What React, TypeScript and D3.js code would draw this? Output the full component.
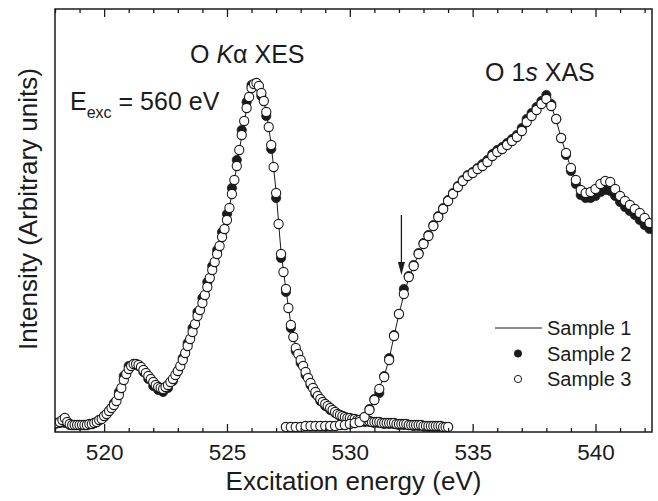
import React, { useRef, useEffect } from 'react';
import * as d3 from 'd3';

// energy grids (eV)
const xesStart1 = 518.0;
const xesStep1 = 0.2;
const xesStart2 = 518.0;
const xesStep2 = 0.2;
const xesStart3 = 518.0;
const xesStep3 = 0.1;
const xasStart = 527.4;
const xasStep = 0.2;

// O Ka XES, intensity in arbitrary units
const sample1Xes = [
  9, 10, 12, 9, 8, 7, 7, 7, 8, 11,
  15, 21, 28, 38, 52, 62, 68, 67, 62, 56,
  50, 45, 44, 47, 53, 61, 72, 86, 100, 115,
  129, 145, 161, 177, 195, 212, 238, 266, 296, 323,
  343, 349, 340, 320, 288, 240, 180, 142, 108, 85,
  72, 60, 49, 40, 33, 28, 24, 20, 17, 15,
  14, 13, 12, 11, 11, 10, 10, 9, 9, 9,
  8, 8, 7, 7, 7, 6, 6, 6, 6, 5,
  5,
];
const sample2Xes = [
  8, 9, 9, 7, 7, 7, 7, 8, 9, 12,
  15, 21, 29, 40, 56, 66, 68, 66, 60, 53,
  46, 42, 40, 44, 51, 61, 74, 89, 104, 120,
  134, 150, 166, 182, 200, 218, 244, 272, 302, 330,
  347, 349, 336, 316, 283, 234, 174, 140, 104, 81,
  69, 57, 47, 38, 31, 26, 22, 19, 16, 14,
  13, 12, 11, 10, 10, 9, 9, 8, 8, 8,
  7, 7, 7, 6, 6, 6, 5, 5, 5, 5,
  5,
];
const sample3Xes = [
  9, 9, 10, 12, 14, 10, 8, 7, 7, 7,
  7, 7, 7, 7, 8, 8, 9, 10, 12, 13,
  16, 18, 21, 24, 27, 31, 37, 44, 52, 58,
  63, 66, 68, 68, 67, 65, 62, 59, 56, 53,
  50, 47, 45, 44, 43, 45, 47, 50, 53, 57,
  61, 66, 72, 79, 86, 93, 100, 108, 116, 122,
  129, 137, 145, 154, 162, 170, 178, 186, 195, 203,
  212, 224, 238, 252, 266, 282, 297, 311, 324, 335,
  344, 348, 349, 346, 339, 331, 320, 305, 287, 265,
  239, 208, 178, 160, 143, 124, 107, 95, 84, 78,
  72, 66, 60, 54, 49, 44, 40, 36, 33, 30,
  28, 26, 24, 22, 20, 18, 17, 16, 15, 14,
  14, 13, 13, 12, 12, 11, 11, 11, 11, 10,
  10, 10, 10, 9, 9, 9, 9, 9, 9, 8,
  8, 8, 8, 8, 7, 7, 7, 7, 7, 7,
  6, 6, 6, 6, 6, 6, 6, 6, 5, 5,
  5,
];

// O 1s XAS
const sample1Xas = [
  5, 5, 5, 5, 6, 6, 6, 6, 6, 6,
  6, 7, 7, 8, 9, 10, 15, 23, 33, 44,
  56, 73, 96, 118, 137, 154, 166, 178, 187, 196,
  206, 215, 223, 230, 238, 245, 250, 255, 259, 263,
  266, 270, 275, 280, 283, 287, 291, 295, 302, 310,
  316, 322, 328, 334, 326, 312, 294, 279, 264, 251,
  242, 239, 240, 243, 247, 250, 249, 243, 236, 231,
  227, 223, 218, 214, 209,
];
const sample2Xas = [
  5, 5, 5, 5, 6, 6, 6, 6, 6, 6,
  6, 7, 7, 8, 9, 10, 15, 23, 33, 39,
  56, 74, 97, 118, 143, 156, 167, 179, 189, 197,
  207, 216, 224, 232, 239, 246, 252, 257, 260, 264,
  268, 272, 278, 282, 285, 289, 293, 297, 304, 313,
  319, 325, 331, 337, 328, 313, 294, 277, 261, 248,
  237, 234, 234, 236, 240, 242, 241, 236, 230, 225,
  221, 217, 212, 207, 203,
];
const sample3Xas = [
  5, 5, 5, 5, 6, 6, 6, 6, 6, 6,
  6, 7, 7, 8, 9, 10, 15, 22, 32, 43,
  55, 72, 96, 118, 138, 155, 166, 178, 188, 196,
  206, 215, 223, 231, 238, 245, 251, 256, 259, 263,
  266, 270, 276, 280, 283, 287, 291, 295, 301, 310,
  316, 322, 328, 333, 326, 313, 294, 279, 264, 252,
  242, 239, 240, 243, 248, 251, 250, 243, 236, 231,
  227, 223, 219, 214, 209,
];

const xDomain = [518, 542.3];
const yDomain = [0, 423];
const majorTicks = [520, 525, 530, 535, 540];
const minorTicks = [518, 519, 521, 522, 523, 524, 526, 527, 528, 529, 531, 532, 533, 534, 536, 537, 538, 539, 541, 542];
const legendLabels = ['Sample 1', 'Sample 2', 'Sample 3'];
const arrowEnergy = 532.1;
const arrowFrom = 217;
const arrowTo = 157;

const toPoints = (start: number, step: number, vals: number[]) =>
  vals.map((v, i) => ({ e: start + i * step, v }));

const W = 658;
const H = 501;
const FONT = '"Liberation Sans", Arial, Helvetica, sans-serif';
const INK = '#1b1b1b';
const R = 4.6;

export default function App() {
  const svgRef = useRef<SVGSVGElement>(null);

  useEffect(() => {
    const svg = d3.select(svgRef.current);
    svg.selectAll('*').remove();

    const x = d3.scaleLinear().domain(xDomain).range([55, 652]);
    const y = d3.scaleLinear().domain(yDomain).range([432, 9]);

    svg.append('defs').append('clipPath').attr('id', 'plotclip')
      .append('rect')
      .attr('x', x(xDomain[0])).attr('y', y(yDomain[1]))
      .attr('width', x(xDomain[1]) - x(xDomain[0]))
      .attr('height', y(yDomain[0]) - y(yDomain[1]));

    const plot = svg.append('g').attr('clip-path', 'url(#plotclip)');

    const line = d3.line<{ e: number; v: number }>()
      .x(d => x(d.e))
      .y(d => y(d.v));

    // Sample 1: line
    [toPoints(xesStart1, xesStep1, sample1Xes), toPoints(xasStart, xasStep, sample1Xas)].forEach(pts => {
      plot.append('path')
        .attr('d', line(pts))
        .attr('fill', 'none')
        .attr('stroke', INK)
        .attr('stroke-width', 1);
    });

    // Sample 2: filled circles
    plot.append('g')
      .selectAll('circle')
      .data([...toPoints(xesStart2, xesStep2, sample2Xes), ...toPoints(xasStart, xasStep, sample2Xas)])
      .join('circle')
        .attr('cx', d => x(d.e))
        .attr('cy', d => y(d.v))
        .attr('r', R)
        .attr('fill', INK)
        .attr('stroke', INK)
        .attr('stroke-width', 0.8);

    // Sample 3: open circles
    plot.append('g')
      .selectAll('circle')
      .data([...toPoints(xesStart3, xesStep3, sample3Xes), ...toPoints(xasStart, xasStep, sample3Xas)])
      .join('circle')
        .attr('cx', d => x(d.e))
        .attr('cy', d => y(d.v))
        .attr('r', R)
        .attr('fill', '#fff')
        .attr('stroke', INK)
        .attr('stroke-width', 1.1);

    // axes, ticks pointing inward
    const styleAxis = (g: any) => {
      g.select('.domain').remove();
      g.selectAll('line').attr('stroke', INK).attr('stroke-width', 1.3);
      g.selectAll('text')
        .attr('fill', INK)
        .style('font-family', FONT)
        .style('font-size', '22.5px');
    };
    const yBottom = y(yDomain[0]);
    const yTop = y(yDomain[1]);

    svg.append('g').attr('transform', `translate(0,${yBottom})`)
      .call(d3.axisBottom(x).tickValues(majorTicks).tickSize(-8).tickPadding(12).tickFormat(d3.format('d')))
      .call(styleAxis);
    svg.append('g').attr('transform', `translate(0,${yBottom})`)
      .call(d3.axisBottom(x).tickValues(minorTicks).tickSize(-4).tickFormat(() => ''))
      .call(styleAxis);
    svg.append('g').attr('transform', `translate(0,${yTop})`)
      .call(d3.axisTop(x).tickValues(majorTicks).tickSize(-8).tickFormat(() => ''))
      .call(styleAxis);
    svg.append('g').attr('transform', `translate(0,${yTop})`)
      .call(d3.axisTop(x).tickValues(minorTicks).tickSize(-4).tickFormat(() => ''))
      .call(styleAxis);

    svg.append('rect')
      .attr('x', x(xDomain[0])).attr('y', yTop)
      .attr('width', x(xDomain[1]) - x(xDomain[0]))
      .attr('height', yBottom - yTop)
      .attr('fill', 'none')
      .attr('stroke', INK)
      .attr('stroke-width', 1.5);

    // axis titles
    svg.append('text')
      .attr('x', (x(xDomain[0]) + x(xDomain[1])) / 2)
      .attr('y', 490)
      .attr('text-anchor', 'middle')
      .attr('fill', INK)
      .style('font-family', FONT)
      .style('font-size', '26px')
      .text('Excitation energy (eV)');

    svg.append('text')
      .attr('transform', 'translate(37,209) rotate(-90)')
      .attr('text-anchor', 'middle')
      .attr('fill', INK)
      .style('font-family', FONT)
      .style('font-size', '26px')
      .text('Intensity (Arbitrary units)');

    // annotations
    const ann = (xx: number, yy: number) => svg.append('text')
      .attr('x', xx).attr('y', yy)
      .attr('fill', INK)
      .style('font-family', FONT)
      .style('font-size', '25px');

    const t1 = ann(190, 63);
    t1.append('tspan').text('O ');
    t1.append('tspan').style('font-style', 'italic').text('K');
    t1.append('tspan').text('\u03b1 XES');

    const t2 = ann(485, 81);
    t2.append('tspan').text('O 1');
    t2.append('tspan').style('font-style', 'italic').text('s');
    t2.append('tspan').text(' XAS');

    const t3 = ann(70, 110);
    t3.append('tspan').text('E');
    t3.append('tspan').attr('dy', 8).style('font-size', '16px').text('exc');
    t3.append('tspan').attr('dy', -8).text(' = 560 eV');

    // arrow marking the absorption onset
    const ax = x(arrowEnergy);
    svg.append('line')
      .attr('x1', ax).attr('x2', ax)
      .attr('y1', y(arrowFrom)).attr('y2', y(arrowTo) - 10)
      .attr('stroke', INK).attr('stroke-width', 1.3);
    svg.append('path')
      .attr('d', `M${ax - 3.5},${y(arrowTo) - 13} L${ax + 3.5},${y(arrowTo) - 13} L${ax},${y(arrowTo)} Z`)
      .attr('fill', INK);

    // legend
    const lg = svg.append('g').attr('transform', 'translate(495,328)');
    legendLabels.forEach((label, i) => {
      const row = lg.append('g').attr('transform', `translate(0,${i * 25.5})`);
      if (i === 0) {
        row.append('line').attr('x1', 0).attr('x2', 47).attr('y1', 0).attr('y2', 0)
          .attr('stroke', INK).attr('stroke-width', 1);
      } else {
        row.append('circle').attr('cx', 23).attr('cy', 0).attr('r', 3.6)
          .attr('fill', i === 1 ? INK : '#fff')
          .attr('stroke', INK).attr('stroke-width', 1);
      }
      row.append('text')
        .attr('x', 52).attr('y', 7)
        .attr('fill', INK)
        .style('font-family', FONT)
        .style('font-size', '20px')
        .text(label);
    });
  }, []);

  return (
    <div>
      <style>{'body{margin:0}'}</style>
      <svg ref={svgRef} width={W} height={H} style={{ display: 'block', background: '#fff' }} />
    </div>
  );
}
